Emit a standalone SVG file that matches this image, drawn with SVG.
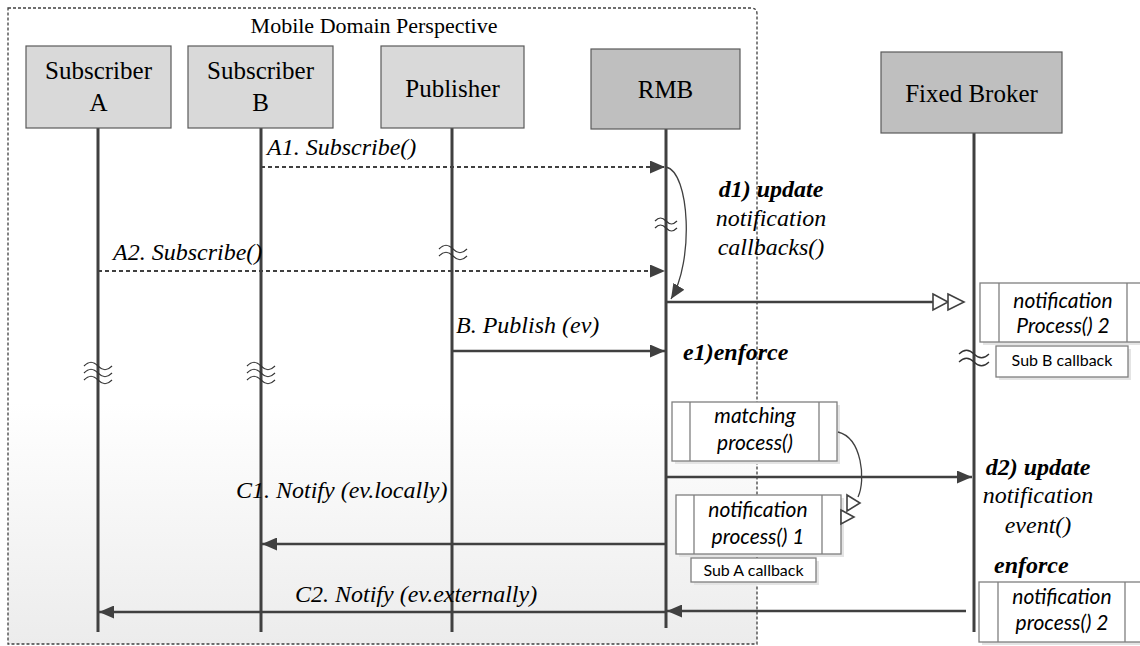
<svg xmlns="http://www.w3.org/2000/svg" width="1140" height="646" viewBox="0 0 1140 646">
  <defs>
    <linearGradient id="domainFill" x1="0" y1="0" x2="0" y2="1">
      <stop offset="0" stop-color="#ffffff"/>
      <stop offset="0.62" stop-color="#ffffff"/>
      <stop offset="1" stop-color="#ececec"/>
    </linearGradient>
    <marker id="solidHead" markerUnits="userSpaceOnUse" markerWidth="16" markerHeight="13" refX="15" refY="6.5" orient="auto">
      <path d="M0,0 L15,6.5 L0,13 Z" fill="#404040"/>
    </marker>
  </defs>
  <style>
    .frame { fill: url(#domainFill); stroke: #404040; stroke-width: 1.3; stroke-dasharray: 3 2; }
    .actorLight { fill: #d9d9d9; stroke: #5a5a5a; stroke-width: 1.2; }
    .actorDark { fill: #bfbfbf; stroke: #5a5a5a; stroke-width: 1.2; }
    .life { stroke: #404040; stroke-width: 3; fill: none; }
    .node { font-family: "Liberation Serif", serif; font-size: 25px; fill: #000; text-anchor: middle; }
    .title { font-family: "Liberation Serif", serif; font-size: 22px; fill: #000; text-anchor: middle; }
    .msg { stroke: #404040; stroke-width: 2.5; fill: none; }
    .async { stroke: #404040; stroke-width: 2.2; fill: none; stroke-dasharray: 4 3; }
    .curve { stroke: #404040; stroke-width: 1.3; fill: none; }
    .open { fill: #ffffff; stroke: #404040; stroke-width: 1.6; }
    .lbl { font-family: "Liberation Serif", serif; font-size: 24px; font-style: italic; fill: #000; }
    .lblb { font-family: "Liberation Serif", serif; font-size: 24px; font-style: italic; font-weight: bold; fill: #000; }
    .mid { text-anchor: middle; }
    .brk { stroke: #333; stroke-width: 1.2; fill: none; }
    .proc { fill: #ffffff; stroke: #7f7f7f; stroke-width: 1.3; }
    .shadow { fill: #e4e4e4; }
    .procText { font-family: Lato, "Liberation Sans", sans-serif; font-size: 21px; font-style: italic; fill: #000; text-anchor: middle; }
    .tag { font-family: Lato, "Liberation Sans", sans-serif; font-size: 16px; fill: #000; text-anchor: middle; }
  </style>

  <!-- mobile domain boundary -->
  <g id="mobile-domain">
    <path class="frame" d="M8,8 H751 Q757,8 757,14 V644 H8 Z"/>
    <text class="title" x="374" y="33">Mobile Domain Perspective</text>
  </g>

  <!-- participants with their lifelines -->
  <g id="subscriber-a">
    <line class="life" x1="98" y1="128" x2="98" y2="632"/>
    <rect class="actorLight" x="26" y="46" width="145" height="82"/>
    <text class="node" x="98.5" y="79">Subscriber</text>
    <text class="node" x="98.5" y="111">A</text>
  </g>
  <g id="subscriber-b">
    <line class="life" x1="261" y1="128" x2="261" y2="632"/>
    <rect class="actorLight" x="188" y="46" width="145" height="82"/>
    <text class="node" x="260.5" y="79">Subscriber</text>
    <text class="node" x="260.5" y="111">B</text>
  </g>
  <g id="publisher">
    <line class="life" x1="452" y1="128" x2="452" y2="632"/>
    <rect class="actorLight" x="381" y="46" width="143" height="82"/>
    <text class="node" x="452.5" y="97">Publisher</text>
  </g>
  <g id="rmb">
    <line class="life" x1="666" y1="129" x2="666" y2="628"/>
    <rect class="actorDark" x="591" y="49" width="149" height="80"/>
    <text class="node" x="665.5" y="98">RMB</text>
  </g>
  <g id="fixed-broker">
    <line class="life" x1="974" y1="133" x2="974" y2="632"/>
    <rect class="actorDark" x="881" y="52" width="181" height="81"/>
    <text class="node" x="971.5" y="102">Fixed Broker</text>
  </g>

  <!-- time breaks on lifelines -->
  <g id="breaks">
    <path class="brk" d="M84,366 c5,-5 9,-5 14,0 s9,5 14,0 M84,373 c5,-5 9,-5 14,0 s9,5 14,0 M84,380 c5,-5 9,-5 14,0 s9,5 14,0"/>
    <path class="brk" d="M247,366 c5,-5 9,-5 14,0 s9,5 14,0 M247,373 c5,-5 9,-5 14,0 s9,5 14,0 M247,380 c5,-5 9,-5 14,0 s9,5 14,0"/>
    <path class="brk" d="M439,249 c5,-5 9,-5 14,0 s9,5 14,0 M439,256 c5,-5 9,-5 14,0 s9,5 14,0"/>
    <path class="brk" d="M655,221 c4,-4 7,-4 11,0 s7,4 11,0 M655,228 c4,-4 7,-4 11,0 s7,4 11,0"/>
    <path class="brk" d="M959,354 c5,-5 10,-5 15,0 s10,5 15,0 M959,362 c5,-5 10,-5 15,0 s10,5 15,0"/>
  </g>

  <!-- processing steps -->
  <g id="notification-process-2-top">
    <rect class="shadow" x="983" y="286" width="160" height="59"/>
    <rect class="proc" x="980" y="283" width="162" height="59"/>
    <line class="proc" x1="999" y1="283" x2="999" y2="342"/>
    <line class="proc" x1="1127" y1="283" x2="1127" y2="342"/>
    <text class="procText" x="1063" y="308">notification</text>
    <text class="procText" x="1063" y="333">Process() 2</text>
  </g>
  <g id="sub-b-callback">
    <rect class="shadow" x="999" y="349" width="132" height="31"/>
    <rect class="proc" x="996" y="346" width="132" height="31"/>
    <text class="tag" x="1062" y="366">Sub B callback</text>
  </g>
  <g id="matching-process">
    <rect class="shadow" x="675" y="405" width="165" height="59"/>
    <rect class="proc" x="672" y="402" width="165" height="59"/>
    <line class="proc" x1="690" y1="402" x2="690" y2="461"/>
    <line class="proc" x1="819" y1="402" x2="819" y2="461"/>
    <text class="procText" x="755" y="423">matching</text>
    <text class="procText" x="755" y="450">process()</text>
  </g>
  <g id="notification-process-1">
    <rect class="shadow" x="679" y="498" width="165" height="59"/>
    <rect class="proc" x="676" y="495" width="165" height="59"/>
    <line class="proc" x1="694" y1="495" x2="694" y2="554"/>
    <line class="proc" x1="822" y1="495" x2="822" y2="554"/>
    <text class="procText" x="758" y="517">notification</text>
    <text class="procText" x="758" y="544">process() 1</text>
  </g>
  <g id="sub-a-callback">
    <rect class="shadow" x="694" y="561" width="125" height="24"/>
    <rect class="proc" x="691" y="558" width="125" height="24"/>
    <text class="tag" x="753.5" y="576">Sub A callback</text>
  </g>
  <g id="notification-process-2-bottom">
    <rect class="shadow" x="982" y="585" width="160" height="60"/>
    <rect class="proc" x="979" y="582" width="163" height="60"/>
    <line class="proc" x1="998" y1="582" x2="998" y2="642"/>
    <line class="proc" x1="1125" y1="582" x2="1125" y2="642"/>
    <text class="procText" x="1062" y="604">notification</text>
    <text class="procText" x="1062" y="630">process() 2</text>
  </g>

  <!-- messages -->
  <g id="connectors">
    <line class="async" x1="261" y1="167" x2="665" y2="167" marker-end="url(#solidHead)"/>
    <line class="async" x1="98" y1="271" x2="665" y2="271" marker-end="url(#solidHead)"/>
    <path class="curve" d="M666,167 C690,172 694,262 671,299" marker-end="url(#solidHead)"/>
    <line class="msg" x1="666" y1="302" x2="933" y2="302"/>
    <polygon class="open" points="933,294 948,302 933,310"/>
    <polygon class="open" points="948,294 964,302 948,310"/>
    <line class="msg" x1="452" y1="351" x2="665" y2="351" marker-end="url(#solidHead)"/>
    <path class="curve" d="M838,432 C862,438 866,480 858,497"/>
    <polygon class="open" points="847,495 860,503 847,511"/>
    <polygon class="open" points="841,510 854,517 841,524"/>
    <line class="msg" x1="666" y1="477" x2="972" y2="477" marker-end="url(#solidHead)"/>
    <line class="msg" x1="666" y1="544" x2="262" y2="544" marker-end="url(#solidHead)"/>
    <line class="msg" x1="966" y1="611" x2="667" y2="611" marker-end="url(#solidHead)"/>
    <line class="msg" x1="666" y1="612" x2="99" y2="612" marker-end="url(#solidHead)"/>
  </g>

  <!-- message labels -->
  <g id="labels">
    <text class="lbl" x="267" y="155">A1. Subscribe()</text>
    <text class="lbl" x="113" y="260">A2. Subscribe()</text>
    <text class="lblb mid" x="771" y="197">d1) update</text>
    <text class="lbl mid" x="771" y="226">notification</text>
    <text class="lbl mid" x="771" y="255">callbacks()</text>
    <text class="lbl" x="456" y="333">B. Publish (ev)</text>
    <text class="lblb" x="683" y="360">e1)enforce</text>
    <text class="lblb mid" x="1038" y="475">d2) update</text>
    <text class="lbl mid" x="1038" y="503">notification</text>
    <text class="lbl mid" x="1038" y="533">event()</text>
    <text class="lbl" x="236" y="498">C1. Notify (ev.locally)</text>
    <text class="lblb" x="994" y="573">enforce</text>
    <text class="lbl" x="295" y="602">C2. Notify (ev.externally)</text>
  </g>
</svg>
